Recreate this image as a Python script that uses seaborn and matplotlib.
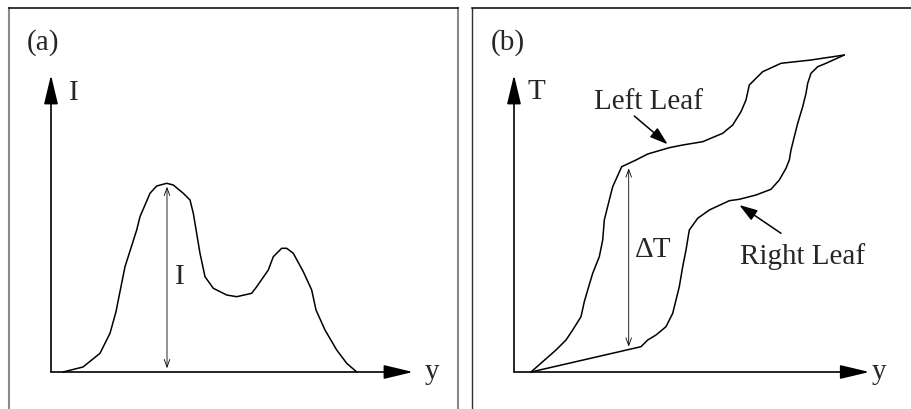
import numpy as np
import pandas as pd
import matplotlib
matplotlib.use("Agg")
import matplotlib.pyplot as plt
import seaborn as sns

# ---- panel (a): intensity profile along y ----
profile_y = [12, 32, 49, 59, 65, 67.3, 74, 85.7, 89, 99, 105.7, 115.7, 122.3, 132.3,
             139, 142.3, 149, 154, 162.3, 175.7, 185.7, 200.7, 205.7, 217.3, 222.3,
             230.7, 235.7, 242.3, 252.3, 260.7, 265, 274, 285.7, 295.7, 305.7]
profile_I = [0, 5, 18.7, 38.7, 60.3, 72, 105.3, 142, 155.3, 178.7, 186, 188.7, 187, 178.7,
             172, 158.7, 118.7, 95.3, 83.7, 77, 75.3, 78.7, 85.3, 102, 115.3,
             123.7, 123.7, 118.7, 100.3, 82, 62, 42, 22, 8.7, 0]
peak_y = 116
peak_I = 185.3

# ---- panel (b): leaf trajectories ----
left_y = [17, 28.7, 42, 52, 58.7, 67, 70.3, 73.7, 78.7, 85.3, 88.7, 90.3, 95.3, 98.7,
          107.7, 122, 133.7, 155.3, 168.7, 188.7, 208.7, 218.7, 227, 232, 235.3, 240.3,
          248.7, 267, 297, 330.3]
left_T = [0, 10.3, 22, 32, 42, 55.3, 70.3, 82, 98.7, 115.3, 132, 152, 172, 185.3,
          205.3, 212, 218, 224.3, 227, 230.3, 238.7, 247, 260.3, 272, 287, 292,
          300.3, 308.7, 312, 317]
right_y = [17, 127, 133.7, 142, 152, 158.7, 162, 165.3, 168.7, 172, 175.3, 183.7, 195.3,
           215.3, 225.3, 242, 257, 265.3, 272, 275.3, 277, 280.3, 283.7, 288.7, 292,
           293.7, 297, 303.7, 312, 330.3]
right_T = [0, 25.3, 32, 37, 45.3, 58.7, 72, 85.3, 105.3, 122, 142, 153.7, 162,
           171.3, 172.7, 177, 182.7, 192, 203.7, 212, 222, 235.3, 248.7, 265.3, 278.7,
           288.7, 298.7, 305.3, 308.7, 317]
gap_y = 114.7
gap_T = (25.3, 203.7)

sns.set_theme(style="white")
plt.rcParams["font.family"] = ["Liberation Serif", "DejaVu Serif"]

W, H = 912, 409
fig = plt.figure(figsize=(W / 100, H / 100), dpi=100)
fig.patch.set_facecolor("white")

FS = 21
axis_arrow = dict(arrowstyle="-|>,head_length=1.8,head_width=0.43", mutation_scale=10,
                  color="black", lw=1.2, shrinkA=0, shrinkB=0)
dim_arrow = dict(arrowstyle="<->,head_length=0.55,head_width=0.2", mutation_scale=10,
                 color="black", lw=0.6, shrinkA=0, shrinkB=0)
lead_arrow = dict(arrowstyle="-|>,head_length=1.1,head_width=0.36", mutation_scale=10,
                  color="black", lw=1.1, shrinkA=0, shrinkB=0)


def make_panel(left_px, right_px, origin_px):
    top_px = 8
    ax = fig.add_axes([left_px / W, 0, (right_px - left_px) / W, (H - top_px) / H])
    ox, oy = origin_px
    ax.set_xlim(left_px - ox, right_px - ox)
    ax.set_ylim(oy - H, oy - top_px)
    ax.set_xticks([])
    ax.set_yticks([])
    ax.set_facecolor("white")
    return ax


def draw_axes(ax, x_end, y_end, ylabel, ylabel_pos, xlabel_pos, tag, tag_pos):
    ax.annotate("", xy=(x_end, 0), xytext=(0, 0), arrowprops=axis_arrow)
    ax.annotate("", xy=(0, y_end), xytext=(0, 0), arrowprops=axis_arrow)
    ax.text(*ylabel_pos, ylabel, fontsize=FS, ha="center", va="center")
    ax.text(*xlabel_pos, "y", fontsize=FS, ha="center", va="center")
    ax.text(*tag_pos, tag, fontsize=FS, ha="center", va="center")


# panel (a)
ax_a = make_panel(9, 458, (51, 372))
for side in ("left", "right"):
    ax_a.spines[side].set_color("#8a8a8a")
    ax_a.spines[side].set_linewidth(1.5)
ax_a.spines["top"].set_color("black")
ax_a.spines["top"].set_linewidth(1.1)
ax_a.spines["bottom"].set_visible(False)

df_a = pd.DataFrame({"y": profile_y, "I": profile_I})
sns.lineplot(data=df_a, x="y", y="I", sort=False, estimator=None, color="black",
             lw=1.1, ax=ax_a)
draw_axes(ax_a, 362, 297, "I", (23, 279), (381, 0), "(a)", (-8, 329))
ax_a.annotate("", xy=(peak_y, peak_I), xytext=(peak_y, 3.7), arrowprops=dim_arrow)
ax_a.text(peak_y + 13, 95, "I", fontsize=FS, ha="center", va="center")
ax_a.set_xlabel("")
ax_a.set_ylabel("")

# panel (b)
ax_b = make_panel(472, 912, (514, 372))
ax_b.spines["left"].set_color("#333333")
ax_b.spines["left"].set_linewidth(1.0)
ax_b.spines["top"].set_color("black")
ax_b.spines["top"].set_linewidth(1.1)
ax_b.spines["right"].set_visible(False)
ax_b.spines["bottom"].set_visible(False)

df_b = pd.concat([
    pd.DataFrame({"y": left_y, "T": left_T, "leaf": "Left Leaf"}),
    pd.DataFrame({"y": right_y, "T": right_T, "leaf": "Right Leaf"}),
])
sns.lineplot(data=df_b, x="y", y="T", units="leaf", sort=False, estimator=None,
             color="black", lw=1.1, ax=ax_b, legend=False)
draw_axes(ax_b, 355.3, 297, "T", (22, 280), (365, 0), "(b)", (-6, 329))
ax_b.annotate("", xy=(gap_y, gap_T[1]), xytext=(gap_y, gap_T[0]), arrowprops=dim_arrow)
ax_b.text(139, 122, "\u0394T", fontsize=FS, ha="center", va="center")

# leaf labels with pointer arrows
ax_b.text(135, 270, "Left Leaf", fontsize=FS, ha="center", va="center")
ax_b.annotate("", xy=(153.7, 227.7), xytext=(120.3, 256), arrowprops=lead_arrow)
ax_b.text(289, 115, "Right Leaf", fontsize=FS, ha="center", va="center")
ax_b.annotate("", xy=(225.3, 167), xytext=(267, 138.7), arrowprops=lead_arrow)
ax_b.set_xlabel("")
ax_b.set_ylabel("")

fig.savefig("out.png", dpi=100, facecolor="white")
